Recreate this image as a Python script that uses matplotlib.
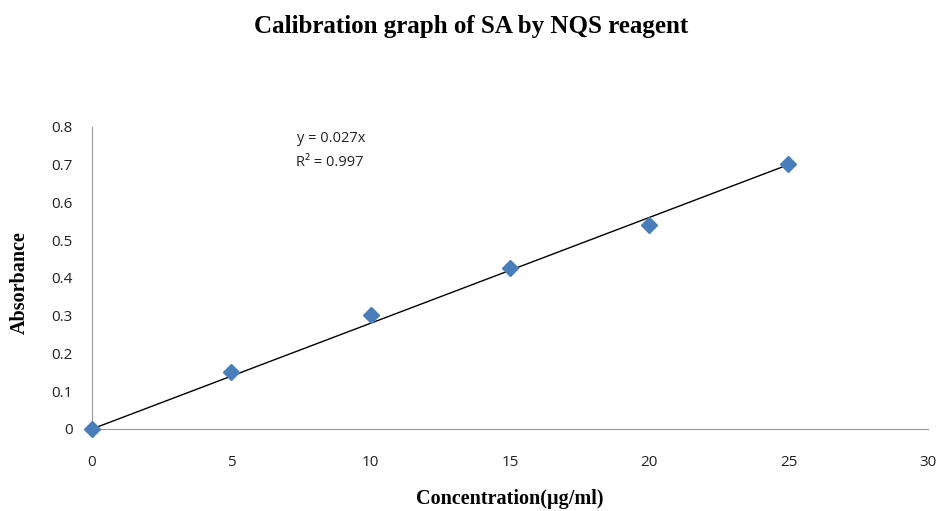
import numpy as np
import matplotlib
matplotlib.use("Agg")
import matplotlib.pyplot as plt

conc=[0,5,10,15,20,25]
absorb=[0,0.151,0.302,0.426,0.540,0.702]
xticks=[0,5,10,15,20,25,30]
yticks=[0,0.1,0.2,0.3,0.4,0.5,0.6,0.7,0.8]

# trendline through origin, least squares
x=np.array(conc,dtype=float)
y=np.array(absorb,dtype=float)
slope=np.sum(x*y)/np.sum(x*x)

fig=plt.figure(figsize=(9.38,5.11),dpi=100)
ax=fig.add_axes([0.0981,0.1605,0.8910,0.5910])

ax.plot([x.min(),x.max()],[0,slope*x.max()],color="black",linewidth=1,zorder=2)
ax.plot(conc,absorb,linestyle="none",marker="D",markersize=8,color="#4a7ebb",zorder=3,clip_on=False)

ax.set_xlim(0,30)
ax.set_ylim(0,0.8)
ax.set_xticks(xticks)
ax.set_yticks(yticks)
ax.set_xticklabels([str(t) for t in xticks])
ax.set_yticklabels(["0" if t==0 else f"{t:.1f}" for t in yticks])
ax.tick_params(length=0,labelsize=11,colors="#222222")
ax.tick_params(axis="x",pad=19)
ax.tick_params(axis="y",pad=14)
for lab in ax.get_xticklabels()+ax.get_yticklabels():
	lab.set_fontfamily("Open Sans")
ax.spines["top"].set_visible(False)
ax.spines["right"].set_visible(False)
ax.spines["left"].set_color("#999999")
ax.spines["bottom"].set_color("#999999")

fig.text(331/938,1-138/511,"y = 0.027x",ha="center",va="center",fontsize=10.5,family="Open Sans",color="#222222")
fig.text(330/938,1-162/511,"R² = 0.997",ha="center",va="center",fontsize=10.5,family="Open Sans",color="#222222")

fig.text(471/938,1-26/511,"Calibration graph of SA by NQS reagent",ha="center",va="center",fontsize=18,fontweight="bold",family="Liberation Serif")
fig.text(510/938,1-499/511,"Concentration(µg/ml)",ha="center",va="center",fontsize=14.5,fontweight="bold",family="Liberation Serif")
fig.text(20/938,1-283/511,"Absorbance",ha="center",va="center",rotation=90,fontsize=14.5,fontweight="bold",family="Liberation Serif")

fig.savefig("out.png",dpi=100)
